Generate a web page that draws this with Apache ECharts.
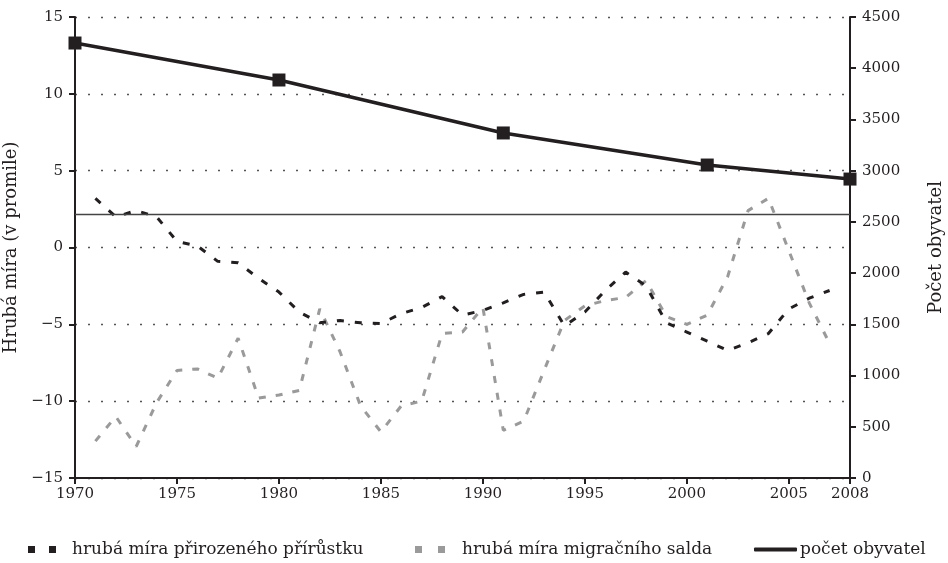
<!DOCTYPE html>
<html>
<head>
<meta charset="utf-8">
<script src="https://cdn.jsdelivr.net/npm/echarts@6/dist/echarts.min.js"></script>
<style>
html, body { margin: 0; padding: 0; background: #fff; }
#chart { width: 948px; height: 563px; }
</style>
</head>
<body>
<div id="chart"></div>
<script>
// roky na ose x
var years = [];
for (var y = 1970; y <= 2008; y++) years.push(y);

// hruba mira prirozeneho prirustku 1971-2007 (promile)
var natural = [3.2, 2.0, 2.4, 2.0, 0.4, 0.1, -0.9, -1.0, -2.0, -2.9,
    -4.2, -4.9, -4.75, -4.9, -4.95, -4.3, -3.9, -3.2, -4.4, -4.1,
    -3.6, -3.05, -2.9, -5.1, -4.2, -2.8, -1.6, -2.5, -4.9, -5.5,
    -6.1, -6.7, -6.2, -5.6, -4.0, -3.3, -2.8];

// hruba mira migracniho salda 1971-2007 (promile)
var migration = [-12.6, -11.0, -12.95, -10.1, -8.0, -7.9, -8.5, -5.9, -9.8, -9.6,
    -9.3, -4.0, -6.8, -10.3, -12.0, -10.3, -10.0, -5.6, -5.5, -3.9,
    -11.9, -11.3, -8.0, -4.75, -3.8, -3.45, -3.25, -2.15, -4.5, -5.0,
    -4.4, -1.9, 2.4, 3.2, -0.2, -3.6, -6.25];

// pocet obyvatel (scitani + 2008)
var popYears = [1970, 1980, 1991, 2001, 2008];
var popValues = [4246, 3885, 3368, 3055, 2918];

var refLine = 2.17;

var names = ['hrubá míra přirozeného přírůstku', 'hrubá míra migračního salda', 'počet obyvatel'];

function yearly(arr) {
    var out = [null];
    arr.forEach(function (v) { out.push(v); });
    out.push(null);
    return out;
}

var popData = years.map(function (yr) {
    var i = popYears.indexOf(yr);
    return i >= 0 ? popValues[i] : null;
});

var font = 'DejaVu Serif';
var ink = '#231f20';

function showYear(idx, val) {
    var v = +val;
    return (v - 1970) % 5 === 0 || v === 2008;
}

var myChart = echarts.init(document.getElementById('chart'));
myChart.setOption({
    animation: false,
    grid: { left: 75, right: 98, top: 17, bottom: 85, containLabel: false, outerBoundsMode: 'none' },
    textStyle: { fontFamily: font, color: ink },
    legend: [
        {
            left: 28, top: 541, padding: 0, selectedMode: false,
            itemWidth: 28, itemHeight: 7,
            data: [{ name: names[0], icon: 'path://M0,0h7v7h-7zM21,0h7v7h-7z' }],
            textStyle: { fontFamily: font, fontSize: 17, color: ink, padding: [0, 0, 0, 11] }
        },
        {
            left: 415, top: 541, padding: 0, selectedMode: false,
            itemWidth: 30, itemHeight: 7,
            data: [{ name: names[1], icon: 'path://M0,0h7v7h-7zM23,0h7v7h-7z' }],
            textStyle: { fontFamily: font, fontSize: 17, color: ink, padding: [0, 0, 0, 12] }
        },
        {
            left: 754, top: 541, padding: 0, selectedMode: false,
            itemWidth: 43, itemHeight: 4,
            data: [{ name: names[2], icon: 'roundRect' }],
            textStyle: { fontFamily: font, fontSize: 17, color: ink, padding: [0, 0, 0, -2] }
        }
    ],
    xAxis: {
        type: 'category',
        data: years,
        boundaryGap: false,
        axisLine: { onZero: false, lineStyle: { color: ink, width: 2 } },
        axisTick: { interval: showYear, length: 6, lineStyle: { color: ink, width: 2 } },
        axisLabel: { interval: showYear, margin: 9, fontFamily: font, fontSize: 15, color: ink }
    },
    yAxis: [
        {
            type: 'value', min: -15, max: 15, interval: 5,
            name: 'Hrubá míra (v promile)', nameLocation: 'middle', nameGap: 47, nameRotate: 90,
            nameTextStyle: { fontFamily: font, fontSize: 18, color: ink },
            axisLine: { show: true, lineStyle: { color: ink, width: 2 } },
            axisTick: { show: true, length: 6, lineStyle: { color: ink, width: 2 } },
            axisLabel: {
                margin: 12, fontFamily: font, fontSize: 15, color: ink,
                formatter: function (v) { return String(v).replace('-', '\u2212'); }
            },
            splitLine: { show: true, lineStyle: { color: '#555', width: 1.3, type: [2, 11] } }
        },
        {
            type: 'value', min: 0, max: 4500, interval: 500,
            name: 'Počet obyvatel', nameLocation: 'middle', nameGap: 77, nameRotate: 90,
            nameTextStyle: { fontFamily: font, fontSize: 18, color: ink },
            axisLine: { show: true, lineStyle: { color: ink, width: 2 } },
            axisTick: { show: true, length: 6, lineStyle: { color: ink, width: 2 } },
            axisLabel: {
                margin: 12, fontFamily: font, fontSize: 15, color: ink,
                formatter: function (v) { return String(v); }
            },
            splitLine: { show: false }
        }
    ],
    series: [
        {
            name: names[0],
            type: 'line',
            data: yearly(natural),
            symbol: 'none',
            itemStyle: { color: ink },
            lineStyle: { color: ink, width: 3, type: [7, 11] },
            markLine: {
                silent: true,
                symbol: 'none',
                label: { show: false },
                lineStyle: { color: '#444', width: 1.3, type: 'solid' },
                data: [{ yAxis: refLine }]
            },
            z: 3
        },
        {
            name: names[1],
            type: 'line',
            data: yearly(migration),
            symbol: 'none',
            itemStyle: { color: '#9a9a9a' },
            lineStyle: { color: '#9a9a9a', width: 3, type: [7, 10] },
            z: 2
        },
        {
            name: names[2],
            type: 'line',
            yAxisIndex: 1,
            data: popData,
            connectNulls: true,
            showAllSymbol: true,
            symbol: 'rect',
            symbolSize: 13,
            itemStyle: { color: ink },
            lineStyle: { color: ink, width: 3.5 },
            z: 4
        }
    ]
});
</script>
</body>
</html>
